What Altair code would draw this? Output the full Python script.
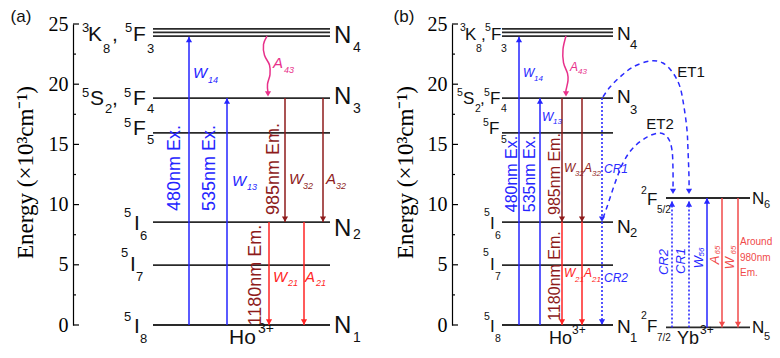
import altair as alt
import pandas as pd

SANS = "Liberation Sans"
SERIF = "Liberation Serif"

# ---------------- values ----------------
# energy levels (10^3 cm^-1)
ho_level_E = [24.6, 24.3, 24.0, 18.85, 15.95, 8.55, 4.98, 0.0]
yb_level_E = [10.55, -0.2]
# horizontal extent of level bars (diagram x units)
span_a = [153, 330]
span_b_ho = [502, 613]
span_b_yb = [666, 750]

# vertical transitions: x, start energy, end energy, kind
tr_x = [189, 227, 285, 323, 269, 304,
        519, 540, 562, 582, 562, 582, 602, 602,
        672, 689, 707, 722, 738]
tr_from = [0, 0, 18.85, 18.85, 8.55, 8.55,
           0, 0, 18.85, 18.85, 8.55, 8.55, 18.85, 8.55,
           -0.2, -0.2, -0.2, 10.55, 10.55]
tr_to = [23.95, 18.85, 8.55, 8.55, 0, 0,
         23.95, 18.85, 8.55, 8.55, 0, 0, 8.55, 0,
         10.3, 10.3, 10.55, -0.2, -0.2]
tr_kind = ["exc", "exc", "em32", "em32", "em21", "em21",
           "exc", "exc", "em32", "em32", "em21", "em21", "cr", "cr",
           "cr", "cr", "exc", "yb", "yb"]

# curved transitions (A43 non-radiative, ET1/ET2 energy transfer)
cv_id = (["A43a"] * 7 + ["A43b"] * 7 + ["ET1"] * 13 + ["ET2"] * 11)
cv_x = [267, 263.5, 264.5, 269.5, 270, 267.5, 268,
        566, 563, 563.5, 567.5, 568, 566, 566,
        603, 610, 620, 633, 650, 663, 673, 680, 684, 687, 688, 689, 689,
        603, 607, 615, 623, 633, 647, 660, 668, 672, 673, 673]
cv_E = [24.0, 23.3, 22.4, 21.6, 20.8, 20.0, 19.3,
        24.0, 22.9, 21.8, 20.9, 20.3, 19.5, 19.3,
        18.94, 19.77, 20.6, 21.43, 21.93, 21.76, 20.93, 19.77, 18.11, 16.2, 14.53, 12.29, 11.05,
        8.89, 9.8, 11.79, 13.46, 14.7, 15.61, 15.95, 15.53, 14.53, 12.87, 11.21]
cv_tip_x = [268, 566, 689, 673]
cv_tip_E = [18.95, 18.95, 10.85, 10.85]
cv_tip_kind = ["nonrad", "nonrad", "cr", "cr"]

tick_major = [0, 5, 10, 15, 20, 25]
tick_minor = [2.5, 7.5, 12.5, 17.5, 22.5]
axis_pos = [73, 452]

kinds = ["exc", "cr", "em32", "em21", "nonrad", "yb", "k"]
kind_colors = ["#2424ff", "#2b2bff", "#8e1b1b", "#ff2424", "#e8308a", "#f04a4a", "#111111"]

# ---------------- scales / axes ----------------
xs = alt.Scale(domain=[73, 772], nice=False, zero=False)
ys = alt.Scale(domain=[0, 25], nice=False, zero=False)
cs = alt.Scale(domain=kinds, range=kind_colors)


def make_axis(offset, title_x):
    return alt.Axis(values=tick_major, format="d", ticks=False, tickSize=0,
                    labelPadding=5, labelFont=SERIF, labelFontSize=20,
                    labelColor="black", labelFlush=False, labelOverlap=False,
                    domainColor="black", domainWidth=1.2, grid=False,
                    orient="left", offset=offset,
                    title="Energy (×10³cm⁻¹)", titleFont=SERIF, titleFontSize=23,
                    titleFontWeight="normal", titleColor="black",
                    titleX=title_x, titleY=148, titleAngle=270,
                    titleAlign="center", titleBaseline="middle")


AX_A = make_axis(0, -48)
AX_B = make_axis(-379, -47)


def X(f="x"):
    return alt.X(f"{f}:Q", scale=xs, axis=None)


def Y(f="E", ax=AX_A):
    return alt.Y(f"{f}:Q", scale=ys, axis=ax)


COL = alt.Color("k:N", scale=cs, legend=None)

# ---------------- level bars ----------------
lv_rows = []
for e in ho_level_E:
    lv_rows.append({"x": span_a[0], "x2": span_a[1], "E": e})
    lv_rows.append({"x": span_b_ho[0], "x2": span_b_ho[1], "E": e})
for e in yb_level_E:
    lv_rows.append({"x": span_b_yb[0], "x2": span_b_yb[1], "E": e})
levels = alt.Chart(pd.DataFrame(lv_rows)).mark_rule(color="#2a2a2a", strokeWidth=1.8).encode(
    x=X(), x2="x2:Q", y=Y())

# ---------------- transitions ----------------
tr = pd.DataFrame({"x": tr_x, "E": tr_from, "E2": tr_to, "k": tr_kind})
tr_solid = alt.Chart(tr[tr.k != "cr"]).mark_rule(strokeWidth=1.5).encode(
    x=X(), y=Y(), y2="E2:Q", color=COL)
tr_dot = alt.Chart(tr[tr.k == "cr"]).mark_rule(strokeWidth=1.6, strokeDash=[2, 2]).encode(
    x=X(), y=Y(), y2="E2:Q", color=COL)

heads = pd.DataFrame({
    "x": tr_x + cv_tip_x,
    "E": tr_to + cv_tip_E,
    "k": tr_kind + cv_tip_kind,
    "up": [t > f for t, f in zip(tr_to, tr_from)] + [False] * len(cv_tip_x),
})
heads_up = alt.Chart(heads[heads.up]).mark_point(
    shape="triangle-up", filled=True, size=38, opacity=1, yOffset=3).encode(
    x=X(), y=Y(), color=COL)
heads_dn = alt.Chart(heads[~heads.up]).mark_point(
    shape="triangle-down", filled=True, size=38, opacity=1, yOffset=-3).encode(
    x=X(), y=Y(), color=COL)

cv = pd.DataFrame({"c": cv_id, "x": cv_x, "E": cv_E})
cv["o"] = range(len(cv))
cv["k"] = ["nonrad" if c.startswith("A") else "cr" for c in cv_id]
curve_a43 = alt.Chart(cv[cv.k == "nonrad"]).mark_line(interpolate="cardinal", strokeWidth=1.5).encode(
    x=X(), y=Y(), detail="c:N", order="o:Q", color=COL)
curve_et = alt.Chart(cv[cv.k == "cr"]).mark_line(interpolate="cardinal", strokeWidth=1.5,
                                                 strokeDash=[5, 4]).encode(
    x=X(), y=Y(), detail="c:N", order="o:Q", color=COL)


# ---------------- axis ticks (inward) ----------------
def tick_df(pos):
    rows = [{"x": pos, "x2": pos + 6, "E": v} for v in tick_major]
    rows += [{"x": pos, "x2": pos + 3, "E": v} for v in tick_minor]
    return pd.DataFrame(rows)


ticks_a = alt.Chart(tick_df(axis_pos[0])).mark_rule(color="black", strokeWidth=1.2).encode(
    x=X(), x2="x2:Q", y=Y())
ticks_b = alt.Chart(tick_df(axis_pos[1])).mark_rule(color="black", strokeWidth=1.2).encode(
    x=X(), x2="x2:Q", y=Y(ax=AX_B))


# ---------------- texts ----------------
def text_layer(t, x, E, kind, size, angle=0, italic=False, align="left", font=SANS):
    df = pd.DataFrame({"t": t, "x": x, "E": E})
    df["k"] = kind
    return alt.Chart(df).mark_text(
        fontSize=size, font=font, align=align, baseline="middle", angle=angle,
        fontStyle="italic" if italic else "normal").encode(
        x=X(), y=Y(), text="t:N", color=COL)


# panel tags
tags = text_layer(["(a)", "(b)"], [21, 404], [25.6, 25.6], "k", 17, align="center")

# panel (a) level labels
lab_a_main = text_layer(
    ["K", ",", "F", "S", ",", "F", "F", "I", "I", "I"],
    [88, 112, 133, 90, 112, 133, 133, 134, 130, 134],
    [24.09, 24.09, 24.09, 18.77, 18.77, 18.77, 16.28, 8.35, 4.98, -0.2],
    "k", 21)
lab_a_scr = text_layer(
    ["3", "8", "5", "3", "5", "2", "5", "4", "5", "5", "5", "6", "5", "7", "5", "8"],
    [82, 103, 125, 147, 82, 105, 124, 147, 124, 147, 124, 140, 121, 136, 124, 140],
    [24.63, 22.92, 24.63, 22.92, 19.27, 17.94, 19.27, 17.94, 16.78, 15.37,
     9.3, 7.39, 5.98, 3.99, 0.66, -1.2],
    "k", 13)
# panel (b) level labels
lab_b_main = text_layer(
    ["K", ",", "F", "S", ",", "F", "F", "I", "I", "I", "F", "F"],
    [465, 481, 491, 463, 480, 490, 489, 490, 490, 490, 647, 647],
    [24.09, 24.09, 24.09, 18.77, 18.77, 18.77, 16.28, 8.35, 4.98, -0.2, 10.38, -0.17],
    "k", 17)
lab_b_scr = text_layer(
    ["3", "8", "5", "3", "5", "2", "5", "4", "5", "5", "5", "6", "5", "7", "5", "8", "2", "2"],
    [460, 476, 485, 501, 457, 475, 484, 501, 483, 501, 484, 495, 483, 495, 484, 495, 641, 641],
    [24.63, 22.92, 24.63, 22.92, 19.27, 17.94, 19.27, 17.94, 16.78, 15.37,
     9.3, 7.39, 5.98, 3.99, 0.66, -1.2, 11.13, 0.75],
    "k", 10.5)
lab_b_frac = text_layer(["5/2", "7/2"], [657, 657], [9.55, -1.08], "k", 10)

# N labels
n_a = text_layer(["N", "N", "N", "N"], [334, 334, 334, 334], [24.0, 18.94, 7.97, -0.08], "k", 24)
n_a_sub = text_layer(["4", "3", "2", "1"], [353, 353, 353, 353], [23.0, 17.94, 7.48, -1.08], "k", 14)
n_b = text_layer(["N", "N", "N", "N"], [617, 617, 617, 617],
                 [24.17, 18.94, 8.14, -0.17], "k", 19)
n_b_sub = text_layer(["4", "3", "2", "1"], [630, 630, 630, 630],
                     [23.26, 17.86, 7.64, -1.08], "k", 13)
n_yb = text_layer(["N", "N"], [752, 752], [10.47, -0.25], "k", 17)
n_yb_sub = text_layer(["6", "5"], [764, 764], [9.97, -1.0], "k", 11)

# ion labels
ion_a = text_layer(["Ho"], [229], [-1.1], "k", 21)
ion_a_sup = text_layer(["3+"], [258], [-0.35], "k", 14)
ion_b = text_layer(["Ho", "Yb"], [549, 677], [-1.2, -1.2], "k", 18)
ion_b_sup = text_layer(["3+", "3+"], [572, 700], [-0.45, -0.45], "k", 12)

et_lab = text_layer(["ET1", "ET2"], [691, 660], [21.01, 16.69], "k", 15, align="center")

# rotated wavelength labels
rot_a = text_layer(["480nm Ex.", "535nm Ex.", "985nm Em.", "1180nm Em."],
                   [175, 210, 274, 256], [13.04, 13.04, 12.96, 4.15],
                   ["exc", "exc", "em32", "em32"], 18, angle=270, align="center")
rot_b = text_layer(["480nm Ex.", "535nm Ex.", "985nm Em.", "1180nm Em."],
                   [512, 530, 555, 555], [12.54, 12.54, 12.54, 4.07],
                   ["exc", "exc", "em32", "em32"], 16, angle=270, align="center")

# rate labels (italic)
it_a = text_layer(["W", "W", "W", "A", "W", "A", "A"],
                  [193, 232, 289, 326, 273, 305, 273],
                  [20.93, 12.0, 12.13, 12.13, 3.99, 3.99, 21.76],
                  ["exc", "exc", "em32", "em32", "em21", "em21", "nonrad"], 15, italic=True)
it_a_sub = text_layer(["14", "13", "32", "32", "21", "21", "43"],
                      [208, 247, 303, 336, 288, 316, 284],
                      [20.35, 11.5, 11.54, 11.54, 3.49, 3.49, 21.18],
                      ["exc", "exc", "em32", "em32", "em21", "em21", "nonrad"], 9, italic=True)
it_b = text_layer(["W", "W", "A", "W", "A", "W", "A", "CR1", "CR2"],
                  [523, 542, 570, 564, 584, 564, 584, 604, 604],
                  [20.93, 17.28, 21.43, 13.04, 13.04, 4.32, 4.32, 12.96, 3.9],
                  ["exc", "exc", "nonrad", "em32", "em32", "em21", "em21", "cr", "cr"], 12, italic=True)
it_b_sub = text_layer(["14", "13", "43", "32", "32", "21", "21"],
                      [534, 553, 578, 575, 592, 575, 592],
                      [20.43, 16.86, 21.01, 12.54, 12.54, 3.74, 3.74],
                      ["exc", "exc", "nonrad", "em32", "em32", "em21", "em21"], 8, italic=True)
it_yb = text_layer(["CR2", "CR1", "W", "A", "W"], [664, 681, 699, 715, 730],
                   [5.23, 5.32, 5.23, 5.4, 5.15], ["cr", "cr", "exc", "yb", "yb"],
                   13, angle=270, italic=True, align="center")
it_yb_sub = text_layer(["56", "65", "65"], [702, 718, 734], [6.06, 6.23, 6.23],
                       ["exc", "yb", "yb"], 8, angle=270, italic=True, align="center")
yb_em = text_layer(["Around", "980nm", "Em."], [740, 740, 740], [6.89, 5.6, 4.3], "yb", 10)

group_a = alt.layer(
    levels, tr_solid, tr_dot, curve_a43, curve_et, heads_up, heads_dn, ticks_a,
    tags, lab_a_main, lab_a_scr, lab_b_main, lab_b_scr, lab_b_frac,
    n_a, n_a_sub, n_b, n_b_sub, n_yb, n_yb_sub, ion_a, ion_a_sup, ion_b, ion_b_sup, et_lab,
    rot_a, rot_b, it_a, it_a_sub, it_b, it_b_sub, it_yb, it_yb_sub, yb_em,
)
group_b = alt.layer(ticks_b)

chart = alt.layer(group_a, group_b).resolve_scale(y="independent").properties(
    width=699, height=301,
    padding={"left": 65, "top": 16, "right": 0, "bottom": 25},
    autosize=alt.AutoSizeParams(type="none"),
    background="white",
).configure_view(stroke=None)

chart.save("out.html", embed_options={"renderer": "svg", "actions": False})
